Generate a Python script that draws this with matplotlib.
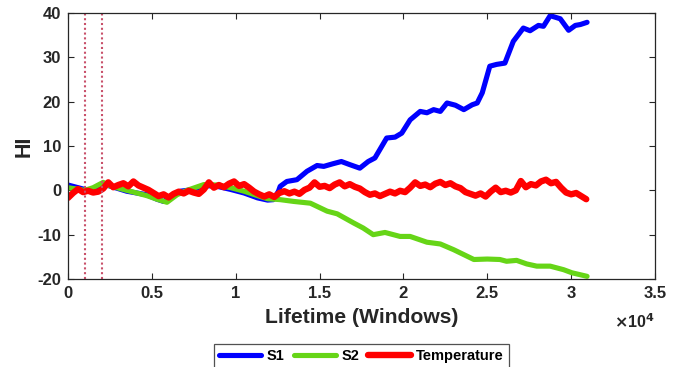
import matplotlib
matplotlib.use('Agg')
import matplotlib.pyplot as plt
import numpy as np

plt.rcParams['font.family'] = ['Liberation Sans', 'DejaVu Sans']
plt.rcParams['font.weight'] = 'bold'
plt.rcParams['axes.unicode_minus'] = False

# health indicator curves (x in windows)
s1_x = [0, 1000, 1500, 2100, 2300, 3500, 4700, 5300, 5700, 6300,
        6700, 7500, 8100, 8900, 9700, 10500, 11300, 11900, 12250, 12550,
        12650, 13050, 13650, 14250, 14850, 15250, 15800, 16300, 16800, 17400,
        17900, 18300, 19000, 19500, 19900, 20400, 21000, 21400, 21800, 22200,
        22600, 23100, 23600, 24100, 24400, 24700, 25150, 25550, 26050, 26550,
        27150, 27550, 28050, 28350, 28750, 29350, 29850, 30250, 30550, 30950]
s1_y = [1.2, 0.2, -0.2, 0.5, 1.2, -0.2, -1.0, -2.0, -2.5, -1.3,
        -0.2, 0.2, 1.1, 0.9, 0.2, -0.6, -1.7, -2.2, -2.1, -0.2,
        0.9, 2.0, 2.4, 4.3, 5.6, 5.4, 6.0, 6.5, 5.8, 5.0,
        6.5, 7.3, 11.8, 12.0, 12.9, 15.9, 17.8, 17.5, 18.2, 17.8,
        19.7, 19.2, 18.2, 19.3, 19.7, 22.0, 28.0, 28.4, 28.7, 33.6,
        36.6, 36.0, 37.2, 37.0, 39.4, 38.7, 36.1, 37.2, 37.4, 37.9]

s2_x = [0, 1000, 1500, 2100, 2500, 3500, 4700, 5300, 5900, 6500,
        7100, 8100, 8900, 9700, 10500, 11300, 11900, 12650, 13450, 14450,
        15450, 16050, 17050, 17600, 18200, 18900, 19800, 20400, 21400, 22200,
        23000, 23600, 24200, 25000, 25750, 26150, 26750, 27350, 27950, 28750,
        29550, 30050, 30950]
s2_y = [0.6, 0.0, 0.6, 1.8, 1.0, 0.0, -1.2, -2.0, -2.7, -1.0,
        0.0, 1.3, 1.2, 0.6, -0.2, -1.2, -1.9, -2.1, -2.5, -2.9,
        -4.7, -5.3, -7.4, -8.5, -10.0, -9.5, -10.4, -10.4, -11.7, -12.1,
        -13.4, -14.5, -15.6, -15.5, -15.6, -16.0, -15.8, -16.6, -17.1, -17.1,
        -17.9, -18.6, -19.4]

temp_x = list(range(0, 31000, 300))
temp_y = [-1.7, -0.6, 0.3, -0.4, -0.1, -0.5, -0.3, 0.4, 1.8, 0.7,
          1.2, 1.6, 0.9, 2.0, 1.1, 0.6, 0.1, -0.6, -1.3, -0.9,
          -1.6, -0.8, -0.3, -0.7, -0.1, -0.5, -0.8, 0.2, 1.8, 0.6,
          1.2, 0.7, 1.5, 2.0, 1.0, 1.4, 0.6, -0.3, -0.9, -1.4,
          -0.9, -1.5, -0.6, -0.2, -0.7, -0.3, -0.8, 0.1, 0.6, 1.8,
          0.8, 1.0, 0.5, 1.3, 1.8, 0.9, 1.4, 0.8, 0.4, -0.4,
          -1.0, -0.7, -1.3, -0.8, -0.3, -0.7, -0.1, -0.4, 0.6, 1.8,
          1.0, 1.3, 0.7, 1.5, 1.9, 1.2, 1.6, 0.9, 0.5, -0.4,
          -0.8, -1.2, -0.7, -1.4, -0.3, 0.6, -0.4, -0.1, -0.5, 0.0,
          2.1, 0.7, 1.4, 1.1, 2.0, 2.4, 1.6, 1.9, 0.6, -0.5,
          -0.9, -0.6, -1.3, -2.0]

vlines_x = [1000, 2000]
xticks = [0, 5000, 10000, 15000, 20000, 25000, 30000, 35000]
xtick_labels = ['0', '0.5', '1', '1.5', '2', '2.5', '3', '3.5']
yticks = [-20, -10, 0, 10, 20, 30, 40]

txt = '#262626'

fig = plt.figure(figsize=(6.81, 3.67), dpi=100)
ax = fig.add_axes([68/681, 1-279/367, 587/681, 266/367])

ax.plot(s1_x, s1_y, color='#0000ff', lw=3.7, label='S1', solid_joinstyle='round', solid_capstyle='round')
ax.plot(s2_x, s2_y, color='#66d517', lw=3.7, label='S2', solid_joinstyle='round', solid_capstyle='round')
ax.plot(temp_x, temp_y, color='#ff0000', lw=4.6, label='Temperature', solid_joinstyle='round', solid_capstyle='round')
for v in vlines_x:
    ax.axvline(v, color='#c8506a', lw=1.5, ls=(0, (1, 1.3)))

ax.set_xlim(0, 35000)
ax.set_ylim(-20, 40)
ax.set_xticks(xticks)
ax.set_xticklabels(xtick_labels)
ax.set_yticks(yticks)
ax.tick_params(direction='in', length=4, width=0.8, top=True, right=True,
               labelsize=12, colors=txt, pad=5)
for lab in ax.get_xticklabels() + ax.get_yticklabels():
    lab.set_fontweight('bold')
for sp in ax.spines.values():
    sp.set_color(txt)
    sp.set_linewidth(0.9)

ax.set_xlabel('Lifetime (Windows)', fontsize=15.2, fontweight='bold', color=txt, labelpad=5)
ax.set_ylabel('HI', fontsize=15.5, fontweight='bold', color=txt, labelpad=2)
fig.text(655/681, 1-322/367, r'$\times$10$^{4}$', ha='right', va='center',
         fontsize=11.5, fontweight='bold', color=txt)

leg = ax.legend(loc='upper center', bbox_to_anchor=(0.5, -0.245), ncol=3,
                frameon=True, fancybox=False, borderaxespad=0,
                handlelength=2.9, columnspacing=0.6, handletextpad=0.4,
                borderpad=0.35, prop={'weight': 'bold', 'size': 10.5})
leg.get_frame().set_edgecolor(txt)
leg.get_frame().set_linewidth(0.9)

fig.savefig('out.png', dpi=100)
